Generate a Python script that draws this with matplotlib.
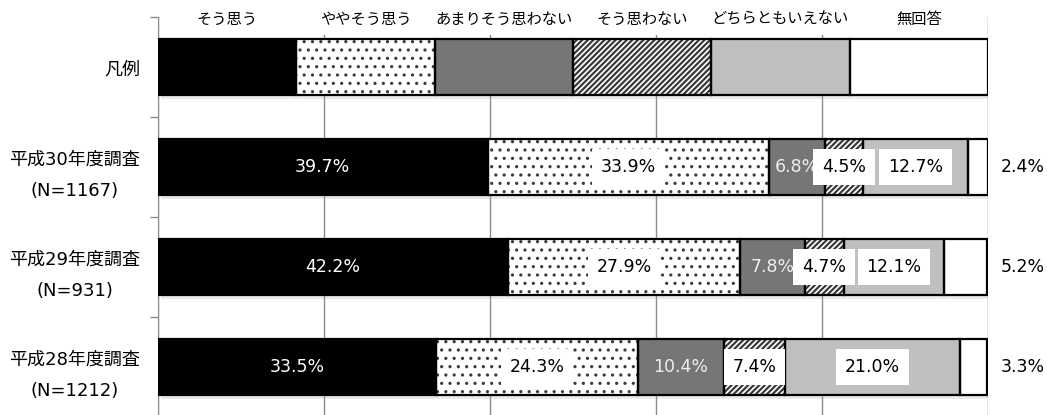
import matplotlib
matplotlib.use('Agg')
import matplotlib.pyplot as plt
import matplotlib.patheffects as pe

plt.rcParams['font.family'] = ['DejaVu Sans', 'Noto Sans CJK JP']

#===========data===========
rows = ['凡例', '平成30年度調査\n(N=1167)', '平成29年度調査\n(N=931)', '平成28年度調査\n(N=1212)']
answers = ['そう思う', 'ややそう思う', 'あまりそう思わない', 'そう思わない', 'どちらともいえない', '無回答']
h30 = [39.7, 33.9, 6.8, 4.5, 12.7, 2.4]
h29 = [42.2, 27.9, 7.8, 4.7, 12.1, 5.2]
h28 = [33.5, 24.3, 10.4, 7.4, 21.0, 3.3]
legend_share = [100 / 6] * 6

#===========style===========
faces = ['black', 'white', '#767676', 'white', '#bfbfbf', 'white']
hatches = [None, '..', None, '//////', None, None]
hatch_lw = [1.0, 1.1, 1.0, 1.6, 1.0, 1.0]
# label kind: 'w' white text, 'b' boxed black text, 'out' outside right
label_kind = ['w', 'b', 'w', 'b', 'b', 'out']
label_color = ['white', 'black', '#eeeeee', 'black', 'black', 'black']

fig = plt.figure(figsize=(10.47, 4.15), dpi=100)
ax = fig.add_axes([158 / 1047, -2 / 415, 830 / 1047, 400 / 415])

bar_h = 0.56
all_rows = [legend_share, h30, h29, h28]

for yi, vals in enumerate(all_rows):
  left = 0
  for k, v in enumerate(vals):
    # white base with a soft shadow
    ax.barh(yi, v, left=left, height=bar_h, color='white', linewidth=0, zorder=2,
            path_effects=[pe.SimplePatchShadow(offset=(2, -3), shadow_rgbFace='#999999', alpha=0.2), pe.Normal()])
    with plt.rc_context({'hatch.linewidth': hatch_lw[k]}):
      ax.barh(yi, v, left=left, height=bar_h, color=faces[k], hatch=hatches[k],
              edgecolor='#3a3a3a', linewidth=0, zorder=3)
    ax.barh(yi, v, left=left, height=bar_h, fill=False, edgecolor='black', linewidth=1.6, zorder=4)

    if yi > 0:
      txt = f'{v:.1f}%'
      if label_kind[k] == 'out':
        ax.annotate(txt, (100, yi), xytext=(9, 0), textcoords='offset points',
                    ha='left', va='center', fontsize=12.5, color='black', zorder=6)
      elif label_kind[k] == 'b':
        ax.text(left + v / 2, yi, txt, ha='center', va='center', fontsize=12.5, color=label_color[k], zorder=6,
                bbox=dict(boxstyle='square,pad=0.5', facecolor='white', edgecolor='none'))
      else:
        ax.text(left + v / 2, yi, txt, ha='center', va='center', fontsize=12.5, color=label_color[k], zorder=6)
    left += v

# legend captions above the legend row
left = 0
for k, name in enumerate(answers):
  ax.text(left + legend_share[k] / 2, -0.48, name, ha='center', va='center', fontsize=11,
          family=['Noto Sans CJK JP'], zorder=5,
          bbox=dict(boxstyle='square,pad=0.5', facecolor='white', edgecolor='none'))
  left += legend_share[k]

ax.set_xlim(0, 100)
ax.set_ylim(3.5, -0.5)
ax.set_xticks(range(0, 101, 20))
ax.tick_params(axis='x', length=0, labelbottom=False)
ax.xaxis.grid(True, color='#8c8c8c', linewidth=1)
ax.set_axisbelow(True)

ax.set_yticks(range(len(rows)))
ax.set_yticklabels(rows, fontsize=13, multialignment='center', linespacing=1.9)
ax.set_yticks([i - 0.5 for i in range(len(rows) + 1)], minor=True)
ax.tick_params(axis='y', which='major', length=0, pad=13)
ax.tick_params(axis='y', which='minor', length=6, color='#8c8c8c', width=1)

for s in ['top', 'right', 'bottom']:
  ax.spines[s].set_visible(False)
ax.spines['left'].set_color('#8c8c8c')

fig.savefig('out.png', dpi=100)
